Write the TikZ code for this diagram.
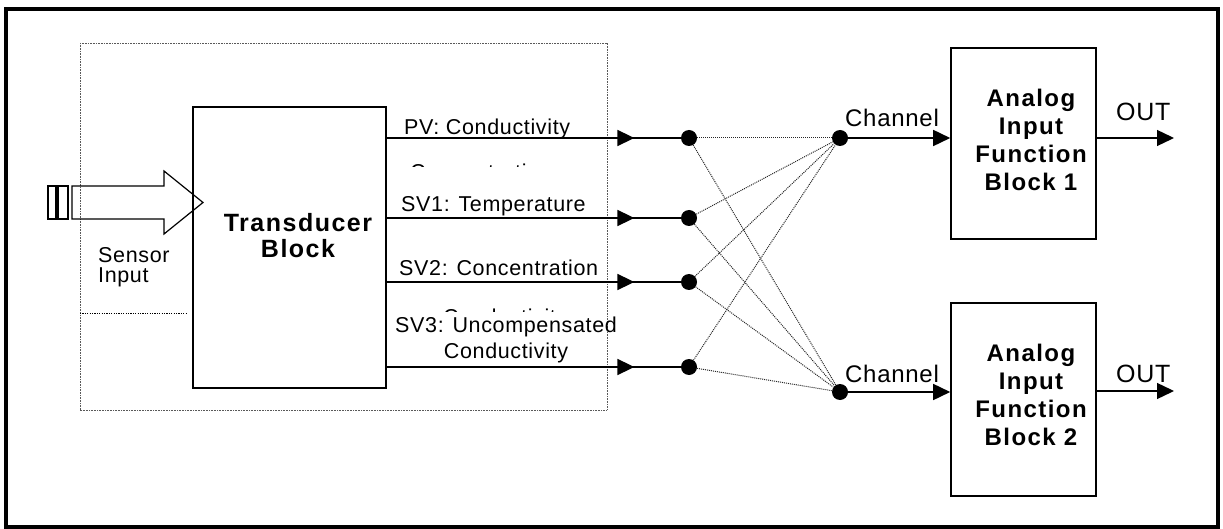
\documentclass[tikz,border=0pt]{standalone}
\usepackage{fontspec}
\setmainfont{Liberation Sans}[LetterSpace=3]
\newfontfamily\bfam{Liberation Sans Bold}[LetterSpace=6]
\usetikzlibrary{arrows.meta,decorations.markings}
\begin{document}
\begin{tikzpicture}[x=1pt,y=-1pt,
  lab/.style={font=\fontsize{21.5}{24}\selectfont, inner sep=0pt, anchor=base west},
  big/.style={font=\fontsize{24}{27}\selectfont, inner sep=0pt, anchor=base west},
  bold/.style={font=\bfam\fontsize{24}{28}\selectfont, inner sep=0pt, anchor=base},
  blk/.style={draw, line width=1.6pt, inner sep=0pt},
  dot/.style={circle, fill, inner sep=0pt, minimum size=16pt},
  sig/.style={line width=1.6pt, postaction={decorate},
    decoration={markings, mark=at position 0.842 with {\arrow{Triangle[length=17pt,width=16pt]}}}},
  cross/.style={line width=1pt, black!85, dash pattern=on 1pt off 1pt},
  tip/.style={line width=1.6pt, -{Triangle[length=17pt,width=16pt]}},
  frame/.style={line width=3.2pt},
  boundary/.style={line width=0.9pt, black!65, dash pattern=on 0.8pt off 0.8pt},
  sep/.style={line width=1pt, dash pattern=on 1.2pt off 1.2pt},
  hollow/.style={line width=1.2pt}
]
\useasboundingbox (0,0) rectangle (1223,529);
\draw[frame] (6,9) rectangle (1218,527);
\draw[boundary] (80,43) rectangle (607,410);
\draw[sep] (80,313) -- (187,313);

% sensor input arrow
\draw[hollow] (48,186) rectangle (56,219);
\draw[hollow] (58,186) rectangle (68,219);
\draw[hollow] (72,186) -- (164,186) -- (164,171) -- (203,202.5) -- (164,234) -- (164,219) -- (72,219) -- cycle;
\node[lab] (sen1) at (98,262) {Sensor};
\node[lab] (sen2) at (98,283) {Input};

% transducer block
\node[blk, minimum width=193pt, minimum height=281pt] (tb) at (289.5,247.5) {};
\node[bold, font=\bfam\fontsize{25}{28}\selectfont] (tbt1) at (298,232) {Transducer};
\node[bold, font=\bfam\fontsize{25}{28}\selectfont] (tbt2) at (298,258) {Block};

% dots
\node[dot] (d1) at (689,138) {};
\node[dot] (d2) at (689,218) {};
\node[dot] (d3) at (689,282) {};
\node[dot] (d4) at (689,367) {};
\node[dot] (c1) at (840,138) {};
\node[dot] (c2) at (840,392) {};

% signal lines
\draw[sig] (tb.east |- d1) -- (d1);
\draw[sig] (tb.east |- d2) -- (d2);
\draw[sig] (tb.east |- d3) -- (d3);
\draw[sig] (tb.east |- d4) -- (d4);

\node[lab] (pv) at (404,135) {PV: Conductivity};
\node[lab] (sv1) at (401,212) {SV1: Temperature};
\node[lab] (sv2) at (399,276) {SV2: Concentration};
\node[lab] (sv3a) at (395,332) {SV3: Uncompensated};
\node[lab, anchor=base] (sv3b) at (506,358) {Conductivity};

% partly hidden texts
\begin{scope}
\clip (400,160) rectangle (600,167);
\node[lab] (hid1) at (410,179.5) {Concentration};
\end{scope}
\begin{scope}
\clip (430,304) rectangle (600,311.5);
\node[lab] (hid2) at (443,324.5) {Conductivity};
\end{scope}

% cross connections
\foreach \d in {d1,d2,d3,d4}{
  \draw[cross] (\d) -- (c1);
  \draw[cross] (\d) -- (c2);
}

% analog input blocks
\node[blk, minimum width=145pt, minimum height=191pt] (ai1) at (1023.5,143.5) {};
\node[blk, minimum width=145pt, minimum height=193pt] (ai2) at (1023.5,399.5) {};
\node[bold] (a1l1) at (1031,107) {Analog};
\node[bold] (a1l2) at (1031,135) {Input};
\node[bold] (a1l3) at (1031,163) {Function};
\node[bold] (a1l4) at (1031,191) {Block 1};
\node[bold] (a2l1) at (1031,361) {Analog};
\node[bold] (a2l2) at (1031,389) {Input};
\node[bold] (a2l3) at (1031,417) {Function};
\node[bold] (a2l4) at (1031,445) {Block 2};

\draw[tip] (c1) -- (ai1.west |- c1);
\draw[tip] (c2) -- (ai2.west |- c2);
\node[big] (ch1) at (845,127) {Channel};
\node[big] (ch2) at (845,382) {Channel};

\coordinate (o1) at (1174,138);
\coordinate (o2) at (1174,391);
\draw[tip, line width=1.3pt] (ai1.east |- o1) -- (o1);
\draw[tip, line width=1.3pt] (ai2.east |- o2) -- (o2);
\node[big, font=\fontsize{25}{28}\selectfont] (out1) at (1116,121) {OUT};
\node[big, font=\fontsize{25}{28}\selectfont] (out2) at (1116,382) {OUT};
\end{tikzpicture}
\end{document}
